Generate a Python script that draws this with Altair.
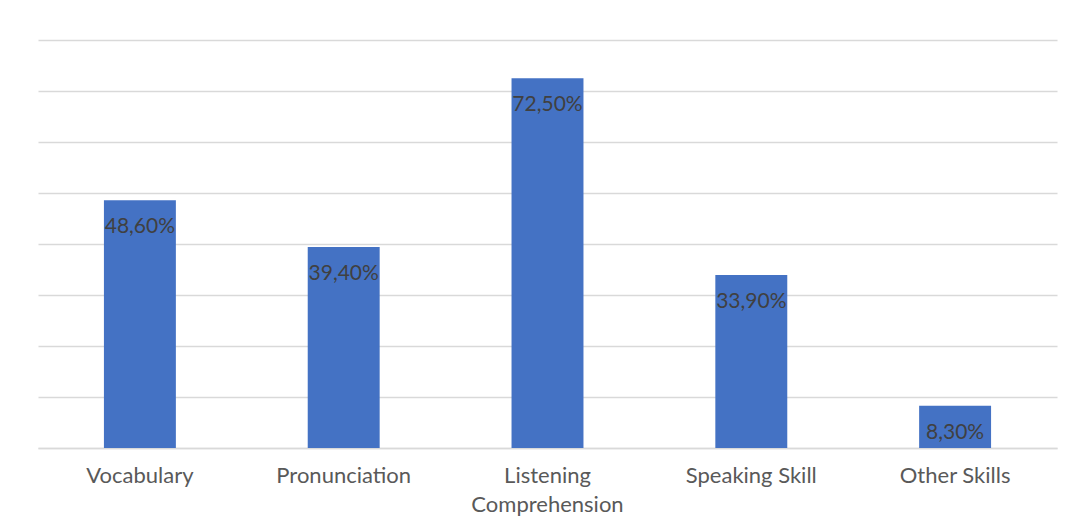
import altair as alt
import pandas as pd

categories = ["Vocabulary", "Pronunciation", "Listening Comprehension", "Speaking Skill", "Other Skills"]
values = [48.6, 39.4, 72.5, 33.9, 8.3]
y_ticks = [0, 10, 20, 30, 40, 50, 60, 70, 80]

df = pd.DataFrame({"skill": categories, "pct": values})
df["label"] = [f"{v:.2f}".replace(".", ",") + "%" for v in values]

FONT = "Lato"

x_enc = alt.X(
    "skill:N",
    sort=categories,
    title=None,
    scale=alt.Scale(paddingInner=0.647, paddingOuter=0.3235),
    axis=alt.Axis(
        labelAngle=0,
        labelFont=FONT,
        labelFontSize=22,
        labelColor="#595959",
        labelPadding=17,
        labelLineHeight=29,
        labelExpr="datum.label == 'Listening Comprehension' ? ['Listening', 'Comprehension'] : datum.label",
        ticks=False,
        domain=True,
        domainColor="#d9d9d9",
        domainWidth=1.3,
        grid=False,
    ),
)
y_enc = alt.Y(
    "pct:Q",
    title=None,
    scale=alt.Scale(domain=[0, 80], nice=False),
    axis=alt.Axis(
        values=y_ticks,
        labels=False,
        ticks=False,
        domain=False,
        grid=True,
        gridColor="#d9d9d9",
        gridWidth=1.3,
    ),
)

bars = alt.Chart(df).mark_bar(color="#4472C4").encode(x=x_enc, y=y_enc)
labels = alt.Chart(df).mark_text(
    baseline="middle", align="center", dy=27, font=FONT, fontSize=21, color="#404040"
).encode(x=alt.X("skill:N", sort=categories), y="pct:Q", text="label:N")

chart = (
    alt.layer(bars, labels)
    .properties(
        width=1019,
        height=408,
        autosize=alt.AutoSizeParams(type="none"),
        padding={"left": 30, "top": 32, "right": 7, "bottom": 82},
        background="white",
    )
    .configure_view(stroke=None)
)

chart.save("out.html", embed_options={"renderer": "svg", "actions": False})
